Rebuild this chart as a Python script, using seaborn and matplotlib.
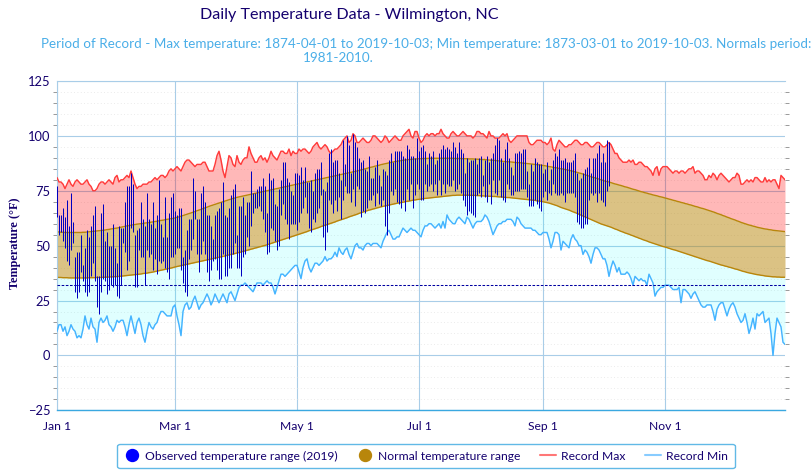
# -*- coding: utf-8 -*-
"""
Daily temperature chart for Wilmington, NC.
Record max/min, normal range and observed range for 2019.
"""

import matplotlib
matplotlib.use("Agg")
import matplotlib.pyplot as plt
import numpy as np
import pandas as pd
import seaborn as sns
from matplotlib.lines import Line2D
from matplotlib.ticker import MultipleLocator

# Record highs, one value per day
lstRecMax = [
	81,79,79,78,76,78,80,78,77,79,80,79,78,78,79,80,78,77,75,75,76,78,79,79,78,79,80,79,78,81,82,
	79,80,80,81,82,81,84,81,78,76,77,77,78,78,78,79,79,80,81,80,81,82,82,81,82,84,85,84,
	85,86,85,84,86,88,89,89,88,87,86,87,87,87,88,88,86,84,84,84,87,91,93,89,84,81,86,91,90,87,86,
	91,88,87,89,90,90,95,92,90,88,88,90,91,89,90,88,90,93,91,90,89,91,93,93,92,92,94,91,93,92,
	92,94,93,94,94,93,92,93,95,96,97,95,94,95,96,95,93,92,93,94,94,95,96,98,99,100,97,98,101,100,97,
	97,98,99,98,97,97,98,100,100,99,98,97,98,100,99,97,98,99,100,99,98,98,100,101,102,103,100,99,102,102,
	99,97,98,100,101,100,101,101,100,101,101,103,101,100,99,99,101,102,101,100,100,101,102,101,100,100,100,99,100,102,102,
	101,101,100,99,102,100,100,99,99,99,100,101,100,101,98,97,98,99,100,100,100,100,100,100,97,96,96,97,98,98,98,
	97,97,96,97,99,94,93,96,98,97,96,95,95,96,96,97,98,98,97,96,96,97,97,96,95,95,96,97,97,96,
	95,95,96,97,96,94,92,92,90,89,88,88,88,89,88,89,87,87,88,88,87,86,86,85,84,82,85,86,82,85,86,
	86,86,85,84,83,84,84,83,84,84,83,84,85,85,86,83,84,84,83,82,80,80,82,81,83,82,80,82,83,82,
	81,80,79,80,81,81,83,82,78,78,79,80,79,80,79,81,81,80,79,79,81,79,80,79,80,80,78,76,82,81,80,
]

# Record lows, one value per day
lstRecMin = [
	11,14,14,11,13,9,11,14,12,11,8,9,8,12,18,14,12,17,13,12,6,15,17,15,16,18,14,13,11,13,16,
	15,16,16,13,9,14,18,14,10,15,17,14,9,6,11,15,13,12,14,15,18,20,20,19,18,18,18,22,
	23,18,14,9,20,23,24,21,22,25,27,24,21,23,24,26,28,26,23,25,28,26,24,26,28,26,24,28,29,27,25,
	28,31,32,32,33,32,31,30,29,31,33,33,33,32,33,34,33,33,31,28,31,34,37,37,36,37,38,39,40,41,
	41,38,35,40,43,44,40,38,40,42,42,41,42,43,45,43,44,44,45,47,45,49,47,46,48,49,46,44,47,50,51,
	49,49,48,50,51,51,50,51,51,51,50,49,52,54,56,57,55,53,53,54,54,56,58,57,56,57,58,57,57,56,
	55,54,57,59,59,60,60,59,58,59,60,58,61,58,64,62,61,60,60,62,63,62,61,60,63,62,60,58,60,61,61,
	61,62,64,63,61,58,55,57,59,60,60,61,61,62,62,62,61,59,63,62,60,59,58,58,58,58,57,57,56,55,55,
	56,56,56,53,49,52,56,56,55,48,52,51,50,49,53,55,53,52,50,50,46,48,47,45,42,46,49,49,48,46,
	44,44,41,36,40,43,41,38,40,37,37,37,38,37,35,32,36,35,34,35,34,34,32,37,35,33,27,29,30,31,31,
	32,32,32,31,30,30,30,31,24,30,30,29,28,26,28,29,27,25,23,22,22,23,23,23,20,16,21,23,24,24,
	21,18,21,23,24,22,19,17,15,16,19,15,10,13,17,12,19,18,19,20,15,16,17,10,0,10,17,15,13,6,5,
]

# Normal high, one value per day
lstNormMax = [
	56.3,56.2,56.1,56.1,56.0,56.0,56.0,56.0,56.0,56.0,56.0,56.0,56.0,56.1,56.1,56.2,56.3,56.4,56.5,56.6,56.7,56.8,56.9,57.0,57.1,57.3,57.4,57.6,57.7,57.9,58.0,
	58.2,58.4,58.6,58.8,59.0,59.1,59.3,59.5,59.6,59.8,59.9,60.0,60.1,60.3,60.4,60.5,60.7,60.8,61.0,61.1,61.3,61.5,61.6,61.8,62.0,62.1,62.3,62.4,
	62.6,62.9,63.1,63.4,63.7,64.0,64.3,64.6,64.9,65.2,65.5,65.9,66.2,66.5,66.9,67.2,67.5,67.9,68.2,68.5,68.8,69.1,69.4,69.7,70.0,70.3,70.6,70.9,71.2,71.5,71.7,
	72.0,72.2,72.4,72.6,72.8,73.0,73.2,73.4,73.6,73.8,74.0,74.2,74.4,74.6,74.8,75.0,75.2,75.4,75.6,75.8,76.0,76.2,76.4,76.6,76.8,77.0,77.2,77.4,77.6,77.8,
	78.0,78.2,78.4,78.6,78.8,79.0,79.2,79.4,79.6,79.8,80.0,80.2,80.4,80.6,80.8,81.0,81.2,81.4,81.6,81.8,82.0,82.2,82.4,82.6,82.8,83.0,83.2,83.4,83.6,83.8,84.0,
	84.2,84.5,84.7,85.0,85.2,85.5,85.7,85.9,86.2,86.4,86.6,86.9,87.1,87.3,87.5,87.7,87.9,88.1,88.3,88.4,88.6,88.7,88.9,89.0,89.1,89.2,89.3,89.4,89.5,89.5,
	89.6,89.6,89.7,89.7,89.7,89.8,89.8,89.8,89.8,89.8,89.8,89.8,89.8,89.8,89.8,89.8,89.8,89.8,89.7,89.7,89.7,89.7,89.6,89.6,89.6,89.5,89.5,89.5,89.4,89.4,89.3,
	89.3,89.2,89.2,89.1,89.0,88.9,88.9,88.8,88.7,88.6,88.5,88.4,88.3,88.2,88.2,88.1,88.0,87.9,87.8,87.8,87.7,87.6,87.5,87.4,87.3,87.2,87.1,87.0,86.9,86.8,86.7,
	86.5,86.4,86.2,86.0,85.9,85.7,85.5,85.4,85.2,85.0,84.9,84.7,84.5,84.3,84.1,83.9,83.6,83.4,83.1,82.9,82.6,82.3,82.0,81.7,81.4,81.1,80.9,80.6,80.3,80.0,
	79.7,79.4,79.2,79.0,78.7,78.4,78.1,77.9,77.6,77.4,77.1,76.8,76.6,76.3,76.0,75.7,75.5,75.2,74.9,74.6,74.4,74.1,73.9,73.6,73.4,73.1,72.9,72.7,72.4,72.2,72.0,
	71.7,71.5,71.2,71.0,70.7,70.5,70.2,70.0,69.7,69.5,69.2,69.0,68.7,68.5,68.2,67.9,67.7,67.4,67.1,66.9,66.6,66.3,66.0,65.7,65.4,65.1,64.7,64.4,64.1,63.7,
	63.4,63.0,62.7,62.3,62.0,61.7,61.3,61.0,60.6,60.3,60.0,59.7,59.4,59.2,58.9,58.7,58.4,58.2,58.0,57.8,57.6,57.5,57.3,57.2,57.0,56.9,56.8,56.7,56.6,56.5,56.4,
]

# Normal low, one value per day
lstNormMin = [
	35.6,35.5,35.5,35.4,35.4,35.4,35.3,35.3,35.3,35.3,35.3,35.3,35.3,35.3,35.3,35.3,35.4,35.4,35.4,35.4,35.5,35.5,35.5,35.6,35.6,35.7,35.7,35.8,35.8,35.9,35.9,
	36.0,36.1,36.2,36.3,36.4,36.5,36.6,36.7,36.8,36.9,37.0,37.1,37.3,37.4,37.5,37.7,37.8,38.0,38.2,38.4,38.6,38.8,39.0,39.2,39.4,39.6,39.8,40.0,
	40.3,40.5,40.7,40.9,41.1,41.3,41.5,41.7,41.9,42.1,42.3,42.5,42.7,42.9,43.1,43.3,43.5,43.7,43.9,44.1,44.3,44.5,44.7,44.9,45.1,45.3,45.6,45.8,46.0,46.2,46.4,
	46.7,46.9,47.1,47.4,47.6,47.9,48.1,48.4,48.6,48.9,49.1,49.4,49.6,49.9,50.1,50.4,50.7,51.0,51.3,51.6,51.9,52.2,52.5,52.8,53.1,53.4,53.7,54.0,54.3,54.6,
	54.9,55.2,55.5,55.8,56.1,56.4,56.8,57.1,57.4,57.7,58.0,58.3,58.7,59.0,59.3,59.6,59.9,60.2,60.5,60.8,61.2,61.5,61.8,62.1,62.4,62.7,63.1,63.4,63.7,64.0,64.3,
	64.7,65.0,65.3,65.6,65.9,66.2,66.4,66.7,66.9,67.2,67.4,67.7,67.9,68.1,68.3,68.5,68.7,68.9,69.1,69.3,69.5,69.6,69.8,70.0,70.2,70.3,70.5,70.7,70.8,71.0,
	71.1,71.2,71.4,71.5,71.6,71.7,71.8,71.9,72.0,72.1,72.2,72.3,72.4,72.5,72.6,72.7,72.8,72.9,72.9,73.0,73.0,73.0,73.0,73.0,73.0,73.0,72.9,72.9,72.9,72.8,72.8,
	72.7,72.7,72.6,72.6,72.5,72.5,72.4,72.4,72.3,72.2,72.2,72.1,72.0,71.9,71.9,71.8,71.7,71.6,71.5,71.4,71.3,71.2,71.1,71.0,70.9,70.8,70.7,70.6,70.4,70.3,70.2,
	70.0,69.8,69.6,69.4,69.1,68.8,68.5,68.2,67.8,67.4,67.1,66.8,66.5,66.2,65.8,65.4,65.1,64.7,64.3,63.9,63.5,63.1,62.7,62.3,61.9,61.5,61.1,60.7,60.3,59.9,
	59.6,59.3,59.0,58.7,58.4,58.0,57.6,57.3,56.9,56.5,56.2,55.8,55.5,55.2,54.8,54.5,54.1,53.8,53.4,53.1,52.7,52.4,52.1,51.7,51.4,51.1,50.8,50.5,50.2,49.9,49.6,
	49.4,49.1,48.8,48.5,48.2,48.0,47.7,47.4,47.1,46.8,46.5,46.2,45.9,45.6,45.3,45.0,44.7,44.4,44.1,43.8,43.5,43.2,43.0,42.7,42.4,42.1,41.8,41.5,41.2,41.0,
	40.7,40.5,40.2,40.0,39.7,39.4,39.2,38.9,38.6,38.3,38.1,37.8,37.6,37.4,37.2,37.0,36.8,36.7,36.5,36.4,36.2,36.1,36.0,35.9,35.8,35.8,35.7,35.7,35.6,35.6,35.6,
]

# Observed 2019 high and low, up to early October
lstObsHigh = [
	77,64,64,67,63,71,59,74,61,45,47,47,55,41,49,57,54,59,64,68,36,36,65,69,52,56,50,50,60,49,42,
	59,58,58,70,77,77,83,78,55,57,58,70,62,59,74,62,60,70,58,64,80,60,54,72,54,65,72,74,
	66,64,67,67,45,48,57,62,62,81,75,62,62,74,77,70,64,64,59,53,64,66,67,70,79,64,63,67,73,76,78,
	55,68,68,72,64,70,70,84,74,74,76,77,77,81,77,65,83,80,81,69,68,76,80,88,88,81,79,75,73,83,
	83,82,86,80,86,79,79,80,75,83,85,85,88,76,75,79,92,94,88,89,89,83,80,98,87,100,96,83,101,97,95,
	90,88,89,85,84,91,81,81,86,89,82,77,85,84,82,89,92,88,93,93,93,93,91,90,96,94,91,91,90,99,
	93,95,96,93,87,92,91,93,87,89,92,94,96,94,95,94,93,97,95,92,97,94,92,83,90,88,89,89,90,87,90,
	91,82,89,91,88,90,92,96,99,98,90,88,94,97,90,86,82,92,92,93,92,94,94,84,78,87,84,90,88,87,87,
	83,85,88,80,85,89,92,91,94,89,89,90,88,88,88,89,92,83,80,81,83,85,86,90,83,90,90,92,96,88,
	92,88,98,97,
]
lstObsLow = [
	63,55,56,52,49,43,41,48,51,29,26,29,38,34,29,27,29,36,42,34,22,19,29,35,34,28,30,32,31,32,27,
	26,32,51,47,39,43,58,56,31,31,48,45,45,32,48,45,46,39,44,37,43,42,43,40,38,35,45,45,
	46,49,49,39,33,29,27,44,48,53,62,46,38,46,52,46,38,34,39,43,44,39,35,35,46,36,36,40,40,46,51,
	40,40,36,45,46,54,50,59,65,67,67,68,66,62,56,46,47,58,57,52,48,50,64,69,62,60,53,60,60,60,
	57,61,65,67,72,65,58,56,62,61,65,67,73,54,48,56,71,69,65,71,66,72,62,71,77,74,74,70,76,68,77,
	76,63,66,65,67,71,71,73,68,74,69,68,71,59,55,65,75,73,76,70,69,67,71,66,76,71,78,67,73,78,
	76,71,71,78,75,77,78,75,78,73,80,73,78,74,78,77,77,80,75,76,78,74,71,68,64,66,65,64,63,73,74,
	72,77,72,70,78,69,80,74,73,80,72,71,70,78,76,73,73,75,75,75,76,76,76,72,68,68,68,71,69,67,66,
	72,75,71,74,73,78,74,73,73,74,73,70,74,74,74,74,72,61,60,58,58,60,60,71,74,73,74,70,74,71,
	70,68,75,77,
]

lstMonthDays = [0, 59, 120, 181, 243, 304]
lstMonthLabels = ["Jan 1", "Mar 1", "May 1", "Jul 1", "Sep 1", "Nov 1"]
lstTempTicks = [-25, 0, 25, 50, 75, 100, 125]
iFreezing = 32

sTextColor = "#14006e"
sGridColor = "#a9cde8"
sAxisColor = "#3aa8e0"

sns.set_theme(style="white")
plt.rcParams["font.family"] = ["Lato", "DejaVu Sans"]

# Plot table
arrDays = np.arange(len(lstRecMax))
dfDaily = pd.DataFrame({
	"day": arrDays,
	"rec_max": lstRecMax,
	"rec_min": lstRecMin,
	"norm_max": lstNormMax,
	"norm_min": lstNormMin,
})
dfObs = pd.DataFrame({
	"day": np.arange(len(lstObsHigh)),
	"high": lstObsHigh,
	"low": lstObsLow,
})

fig = plt.figure(figsize=(8.11, 4.76), dpi=100)
ax = fig.add_axes([57 / 811, 1 - 410.3 / 476, 728 / 811, 329.3 / 476])

# Bands
ax.fill_between(dfDaily["day"], dfDaily["norm_max"], dfDaily["rec_max"], color="#ff0000", alpha=0.28, lw=0, zorder=1)
ax.fill_between(dfDaily["day"], dfDaily["rec_min"], dfDaily["norm_min"], color="#00ffff", alpha=0.12, lw=0, zorder=1)
ax.fill_between(dfDaily["day"], dfDaily["norm_min"], dfDaily["norm_max"], color="#b8860b", alpha=0.5, lw=0, zorder=1)

# Lines
sns.lineplot(data=dfDaily, x="day", y="norm_max", color="#b8860b", lw=1.0, ax=ax, zorder=2, errorbar=None)
sns.lineplot(data=dfDaily, x="day", y="norm_min", color="#b8860b", lw=1.0, ax=ax, zorder=2, errorbar=None)
sns.lineplot(data=dfDaily, x="day", y="rec_max", color="#ff3b3b", lw=1.05, ax=ax, zorder=3, errorbar=None)
sns.lineplot(data=dfDaily, x="day", y="rec_min", color="#45b4ff", lw=1.05, ax=ax, zorder=3, errorbar=None)

# Observed range
ax.vlines(dfObs["day"], dfObs["low"], dfObs["high"], color="#0000c0", lw=0.72, zorder=4)

# Freezing line
ax.axhline(iFreezing, color="#0000a0", lw=0.75, ls=(0, (2.5, 1.5)), zorder=3)

# Axes
ax.set_xlim(0, 364)
ax.set_ylim(-25, 125)
ax.set_xticks(lstMonthDays)
ax.set_xticklabels(lstMonthLabels)
ax.set_yticks(lstTempTicks)
ax.yaxis.set_minor_locator(MultipleLocator(5))
ax.set_xlabel("")
ax.set_ylabel("")
ax.set_axisbelow(True)
ax.grid(True, which="major", color=sGridColor, lw=0.8)
ax.grid(True, which="minor", axis="y", color="#e4e4e4", lw=0.6, ls=(0, (1, 3)))
ax.tick_params(axis="x", which="major", length=7, width=0.8, color=sGridColor, labelsize=8.7, labelcolor=sTextColor, pad=1)
ax.tick_params(axis="y", which="major", length=4, width=0.8, color=sGridColor, labelsize=9.3, labelcolor=sTextColor, pad=1)
ax.tick_params(axis="y", which="minor", length=3, width=0.7, color="#999999", left=True, right=True)
for sSide in ["top", "left", "right"]:
	ax.spines[sSide].set_color(sGridColor)
	ax.spines[sSide].set_linewidth(0.8)
ax.spines["right"].set_visible(False)
ax.spines["bottom"].set_color(sAxisColor)
ax.spines["bottom"].set_linewidth(1.0)

# Titles
fig.text(349.5 / 811, 1 - 15 / 476, "Daily Temperature Data - Wilmington, NC", ha="center", va="center", fontsize=11.6, color=sTextColor)
fig.text(426.5 / 811, 1 - 44 / 476, "Period of Record - Max temperature: 1874-04-01 to 2019-10-03; Min temperature: 1873-03-01 to 2019-10-03. Normals period:",
	ha="center", va="center", fontsize=9.7, color="#4aaee8")
fig.text(338.5 / 811, 1 - 58 / 476, "1981-2010.", ha="center", va="center", fontsize=9.7, color="#4aaee8")
fig.text(15 / 811, 1 - 243 / 476, "Temperature (\u00b0F)", rotation=90, ha="center", va="center",
	fontsize=8.8, fontweight="bold", family="Liberation Serif", color=sTextColor)

# Legend
lstHandles = [
	Line2D([], [], marker="o", ls="", color="#0000ff", markersize=8.6),
	Line2D([], [], marker="o", ls="", color="#b8860b", markersize=8.6),
	Line2D([], [], color="#ff7777", lw=1.5),
	Line2D([], [], color="#88ccff", lw=1.5),
]
lstLegendLabels = ["Observed temperature range (2019)", "Normal temperature range", "Record Max", "Record Min"]
oLegend = fig.legend(
	lstHandles, lstLegendLabels, ncol=4, loc="center", bbox_to_anchor=(426 / 811, 1 - 456 / 476),
	frameon=True, fancybox=True, fontsize=8.7, labelcolor=sTextColor, edgecolor=sAxisColor,
	handlelength=1.3, handletextpad=0.45, columnspacing=1.6, borderpad=0.55,
)
oLegend.get_frame().set_linewidth(1.0)

fig.savefig("out.png", dpi=100)
plt.close(fig)
